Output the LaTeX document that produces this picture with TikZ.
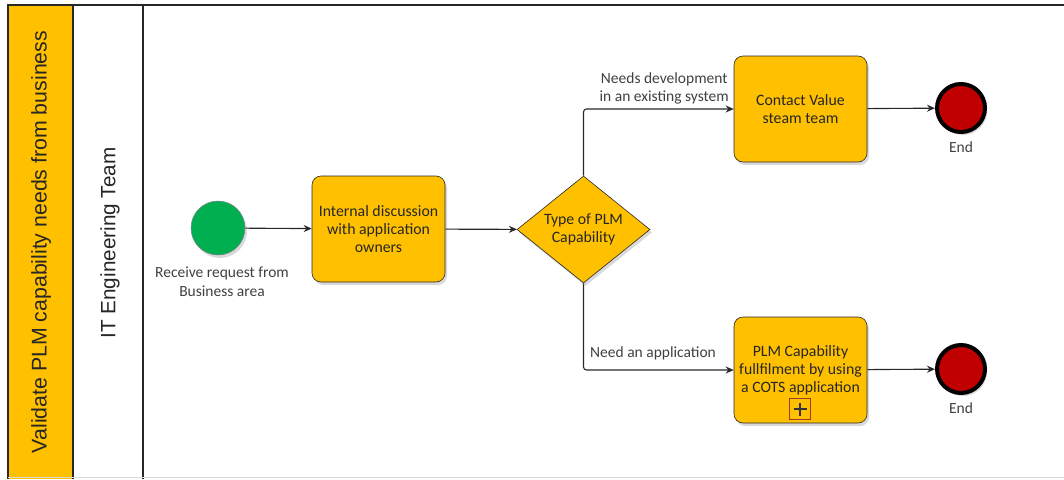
\documentclass[tikz,border=0pt]{standalone}
\usepackage{fontspec}
\setmainfont{Carlito}
\newfontfamily\lanefont{Liberation Sans}
\usetikzlibrary{shapes.geometric,arrows.meta,shadows,positioning}
\definecolor{taskorange}{RGB}{255,192,0}
\definecolor{startgreen}{RGB}{0,176,80}
\definecolor{endred}{RGB}{192,0,0}
\definecolor{linegray}{RGB}{40,40,40}
\definecolor{labelgray}{RGB}{64,64,64}
\definecolor{markred}{RGB}{160,60,30}
\tikzset{
  shadowed/.style={drop shadow={opacity=0.3,shadow xshift=2pt,shadow yshift=-3pt}},
  task/.style={shadowed,draw=linegray,line width=0.6pt,fill=taskorange,rounded corners=9pt,
    minimum width=133pt,minimum height=106pt,align=center,font=\fontsize{15.8}{18}\selectfont,text=black!85,inner sep=2pt},
  tasktext/.style={align=center,font=\fontsize{15.8}{18}\selectfont,text=black!85,inner sep=0pt},
  gateway/.style={shadowed,diamond,draw=linegray,line width=0.6pt,fill=taskorange,aspect=1.24,
    minimum width=133pt,minimum height=107pt,inner sep=0pt,align=center,font=\fontsize{15.8}{18}\selectfont,text=black!85},
  startev/.style={shadowed,circle,draw=gray,line width=0.5pt,fill=startgreen,minimum size=54pt,inner sep=0pt},
  endev/.style={shadowed,circle,draw=black,line width=4pt,fill=endred,minimum size=48pt,inner sep=0pt},
  evlabel/.style={align=center,font=\fontsize{15.5}{19}\selectfont,text=labelgray,inner sep=0pt},
  flow/.style={draw=linegray,line width=1.1pt,-{Stealth[length=8pt,width=7pt]},rounded corners=3pt},
  lanetext/.style={rotate=90,font=\lanefont\fontsize{21.3}{24}\selectfont,text=black!85},
}
\begin{document}
\begin{tikzpicture}[x=1pt,y=-1pt]
\useasboundingbox (0,0) rectangle (1064,479);
% pool and lane bands
\fill[taskorange] (8,5) rectangle (73,479);
\draw[linegray,line width=1.2pt] (8,479) -- (8,5) -- (1064,5);
\draw[linegray,line width=1.2pt] (73,5) -- (73,479);
\draw[linegray,line width=1.2pt] (143,5) -- (143,479);
\draw[gray!30,line width=0.6pt] (8,477.5) -- (1064,477.5);
\node[lanetext] (pool) at (41,242) {Validate PLM capability needs from business};
\node[lanetext,font=\lanefont\fontsize{20.7}{24}\selectfont] (lane) at (110,243) {IT Engineering Team};
% nodes
\node[startev] (start) at (218,228) {};
\node[evlabel,anchor=base] (startlbl) at (222,296) {Receive request from\\Business area};
\node[task] (t1) at (378.5,229) {Internal discussion\\with application\\owners};
\node[gateway] (gw) at (583.5,229.5) {Type of PLM\\Capability};
\node[task] (t2) at (800.5,109) {Contact Value\\steam team};
\node[task] (t3) at (800.5,370) {};
\node[tasktext] (t3txt) at (800.5,370) {PLM Capability\\fullfilment by using\\a COTS application};
\node[draw=markred,line width=1.3pt,minimum size=21pt,inner sep=0pt] (mark) at (800,409) {};
\draw[black!80,line width=2.2pt] ([yshift=-6.5pt]mark.center) -- ([yshift=6.5pt]mark.center)
  ([xshift=-6.5pt]mark.center) -- ([xshift=6.5pt]mark.center);
\node[endev] (e1) at (961,108) {};
\node[evlabel,anchor=base] (e1lbl) at (961,152) {End};
\node[endev] (e2) at (961,369) {};
\node[evlabel,anchor=base] (e2lbl) at (961,413) {End};
% flows
\draw[flow] (start) -- (t1);
\draw[flow] (t1) -- (gw);
\draw[flow] (gw.north) |- (t2.west);
\draw[flow] (gw.south) |- (t3.west);
\draw[flow] (t2) -- (e1);
\draw[flow] (t3) -- (e2);
\node[evlabel,anchor=base east,font=\fontsize{15.5}{18}\selectfont] (lblup) at (729,101) {Needs development\\in an existing system};
\node[evlabel,anchor=base west] (lbldown) at (590,357) {Need an application};
\end{tikzpicture}
\end{document}
